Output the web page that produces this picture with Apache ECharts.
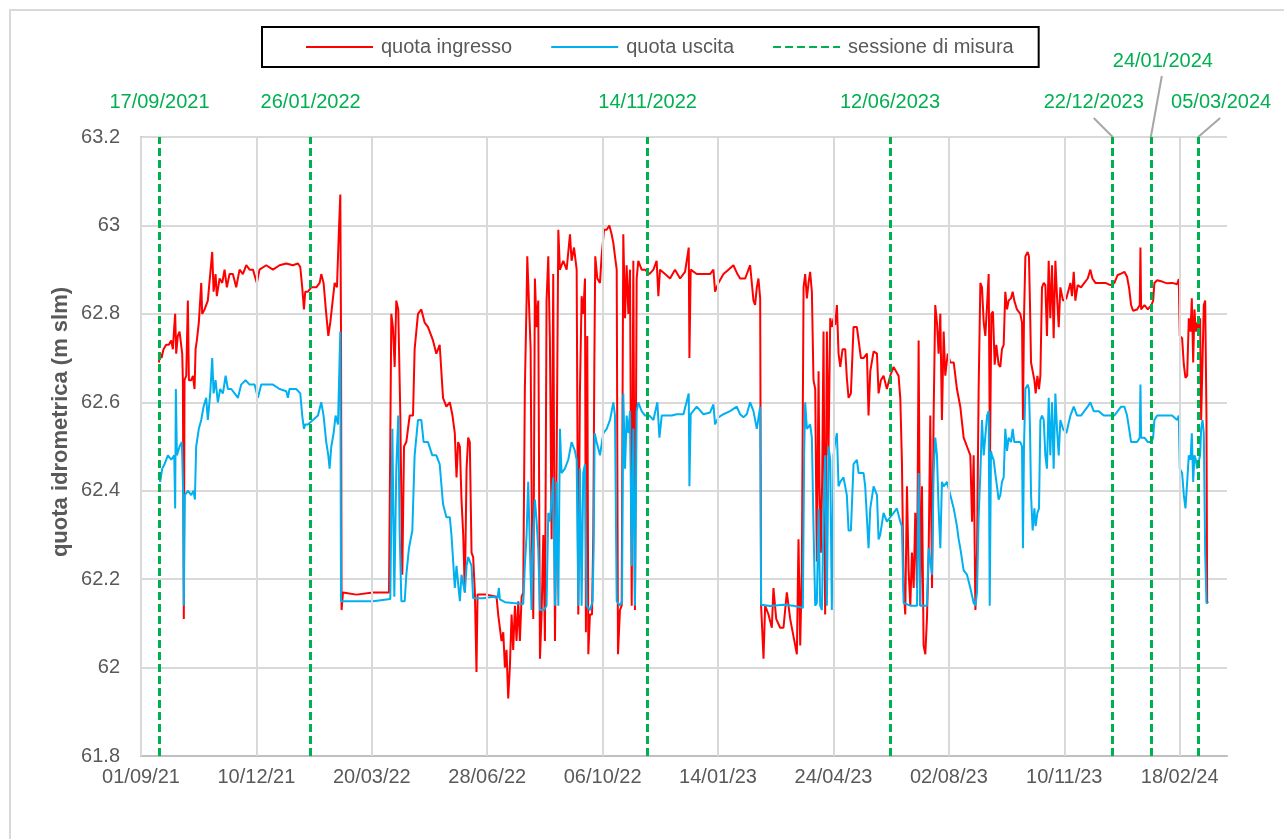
<!DOCTYPE html>
<html lang="it">
<head>
<meta charset="UTF-8">
<title>Quota idrometrica</title>
<script src="https://cdn.jsdelivr.net/npm/echarts@6/dist/echarts.min.js"></script>
<style>
    html, body { margin: 0; padding: 0; background: #fff; }
    #chart { width: 1284px; height: 839px; }
</style>
</head>
<body>
<div id="chart"></div>
<script type="text/javascript">
    // [giorni dal 01/09/2021, quota m slm]
    var quotaIngresso = [
        [15.5,62.69],[16.6,62.71],[17.8,62.70],[19.5,62.72],[21.8,62.73],[24.1,62.73],[26.2,62.74],[27.6,62.72],[28.8,62.77],[29.6,62.80],
        [30.5,62.71],[31.9,62.75],[33.4,62.76],[34.8,62.76],[35.7,62.71],[36.3,62.65],[37.1,62.11],[37.7,62.65],[39.2,62.66],[40.6,62.83],
        [41.5,62.65],[43.5,62.65],[45.0,62.66],[46.4,62.63],[47.3,62.72],[48.4,62.74],[50.1,62.78],[52.2,62.87],[53.0,62.80],[55.1,62.81],
        [56.5,62.81],[57.9,62.83],[59.4,62.83],[61.7,62.94],[62.9,62.85],[64.6,62.89],[65.7,62.84],[68.1,62.88],[70.4,62.87],[72.4,62.90],
        [74.4,62.86],[76.7,62.89],[79.6,62.89],[82.5,62.86],[85.4,62.90],[88.3,62.89],[91.2,62.91],[94.1,62.90],[97.0,62.90],[100.4,62.87],
        [102.7,62.90],[108.5,62.91],[114.3,62.90],[120.1,62.91],[125.9,62.914],[131.6,62.91],[136.0,62.914],[138.0,62.906],[139.7,62.86],[141.2,62.81],
        [142.3,62.85],[144.6,62.85],[147.5,62.86],[151.9,62.86],[154.8,62.87],[156.2,62.89],[158.2,62.87],[160.5,62.80],[162.3,62.75],[164.0,62.78],
        [165.7,62.78],[167.8,62.87],[169.8,62.86],[171.5,62.99],[172.7,63.07],[173.3,62.76],[173.8,62.13],[175.0,62.17],[186.6,62.165],[201.0,62.17],
        [214.9,62.17],[216.9,62.80],[218.3,62.77],[219.8,62.68],[221.2,62.83],[222.9,62.81],[224.7,62.57],[226.4,62.21],[227.9,62.50],[229.9,62.51],
        [232.8,62.57],[235.7,62.57],[237.1,62.72],[240.0,62.80],[242.9,62.81],[245.8,62.78],[248.7,62.77],[253.0,62.74],[255.9,62.71],[258.8,62.73],
        [261.7,62.61],[264.6,62.59],[267.6,62.60],[269.9,62.57],[271.9,62.53],[273.4,62.43],[274.8,62.51],[276.3,62.50],[277.7,62.38],[279.2,62.30],
        [280.6,62.17],[282.1,62.45],[283.5,62.52],[284.9,62.51],[286.4,62.26],[287.8,62.25],[289.3,62.17],[290.7,61.99],[291.6,62.165],[299.4,62.165],
        [308.1,62.16],[309.5,62.12],[311.0,62.12],[312.4,62.06],[313.9,62.08],[315.3,62.00],[316.7,62.04],[318.2,61.93],[319.6,62.00],[321.1,62.12],
        [322.5,62.04],[324.0,62.14],[325.4,62.06],[326.9,62.15],[328.3,62.06],[329.8,62.16],[331.2,62.17],[332.6,62.63],[334.1,62.83],[334.7,62.93],
        [336.4,62.93],[337.6,62.72],[338.7,62.30],[339.9,62.11],[341.3,62.88],[342.8,62.77],[344.2,62.83],[345.7,62.02],[347.1,62.12],[348.6,62.30],
        [350.0,62.06],[351.4,62.83],[352.9,62.93],[354.3,62.74],[355.8,62.29],[357.2,62.89],[358.7,62.06],[360.1,62.45],[361.6,62.99],[363.0,62.90],
        [365.9,62.92],[368.8,62.90],[371.7,62.98],[373.1,62.92],[375.2,62.95],[377.5,62.90],[378.9,62.12],[380.3,62.62],[381.8,62.84],[383.2,62.80],
        [384.7,62.88],[385.5,62.08],[386.7,62.75],[387.6,62.03],[389.0,62.12],[390.8,62.12],[391.9,62.30],[392.8,62.68],[393.6,62.93],[395.4,62.88],
        [397.7,62.87],[399.1,62.93],[401.2,62.99],[403.5,62.99],[405.8,63.00],[407.8,62.98],[409.3,62.96],[410.7,62.93],[412.2,62.90],[413.3,62.03],
        [415.0,62.13],[416.5,62.14],[417.9,62.98],[419.4,62.79],[420.8,62.91],[422.3,62.80],[423.7,62.90],[425.2,62.14],[426.6,62.92],[428.0,62.13],
        [429.5,62.88],[430.9,62.92],[433.8,62.90],[436.7,62.90],[440.5,62.89],[444.0,62.90],[446.8,62.92],[448.3,62.84],[449.7,62.90],[454.1,62.89],
        [458.4,62.88],[462.7,62.90],[467.1,62.88],[471.4,62.895],[474.6,62.95],[475.2,62.70],[476.3,62.90],[481.5,62.89],[487.3,62.89],[493.1,62.89],
        [496.0,62.90],[497.4,62.85],[500.3,62.87],[504.7,62.89],[509.0,62.90],[513.3,62.91],[516.8,62.89],[519.1,62.88],[523.5,62.88],[527.8,62.91],
        [529.2,62.91],[530.7,62.83],[532.1,62.82],[533.6,62.86],[535.0,62.88],[536.5,62.835],[537.3,62.14],[539.4,62.02],[540.8,62.14],[543.7,62.12],
        [546.6,62.09],[548.0,62.18],[550.4,62.11],[553.8,62.09],[556.7,62.09],[559.6,62.17],[562.5,62.11],[565.4,62.07],[568.3,62.03],[569.7,62.29],
        [571.2,62.05],[572.6,62.22],[574.1,62.86],[575.5,62.89],[577.0,62.835],[578.4,62.87],[579.8,62.895],[581.3,62.85],[582.7,62.65],[584.2,62.63],
        [585.6,62.24],[587.1,62.67],[587.9,62.41],[589.1,62.26],[590.2,62.42],[591.4,62.76],[592.8,62.12],[594.3,62.76],[595.7,62.48],[597.2,62.79],
        [598.6,62.77],[600.1,62.79],[601.5,62.775],[603.0,62.82],[604.4,62.71],[605.9,62.68],[607.9,62.72],[610.2,62.72],[611.6,62.655],[613.1,62.61],
        [615.1,62.62],[617.4,62.77],[620.3,62.77],[621.8,62.74],[623.8,62.70],[626.1,62.70],[629.0,62.71],[630.4,62.57],[631.9,62.67],[634.8,62.715],
        [637.7,62.71],[639.1,62.62],[641.1,62.65],[643.4,62.66],[646.3,62.63],[649.2,62.66],[652.1,62.68],[656.4,62.66],[657.9,62.61],[659.3,62.47],
        [660.8,62.18],[662.2,62.12],[663.7,62.41],[665.1,62.22],[666.6,62.14],[668.0,62.26],[669.5,62.18],[670.9,62.35],[672.4,62.18],[673.8,62.74],
        [675.2,62.14],[676.7,62.41],[678.1,62.05],[679.6,62.03],[681.0,62.11],[682.5,62.26],[683.9,62.57],[685.4,62.18],[686.8,62.57],[688.2,62.82],
        [689.7,62.78],[691.1,62.71],[692.6,62.80],[694.0,62.56],[695.5,62.76],[696.9,62.66],[699.0,62.71],[701.3,62.69],[704.2,62.69],[707.0,62.63],
        [709.9,62.59],[712.8,62.52],[715.7,62.50],[718.6,62.48],[720.1,62.33],[721.5,62.48],[723.0,62.13],[724.4,62.26],[725.8,62.63],[727.3,62.87],
        [728.7,62.86],[730.2,62.78],[731.6,62.75],[733.1,62.82],[734.5,62.89],[735.6,62.46],[736.8,62.80],[738.2,62.805],[739.7,62.685],[741.1,62.73],
        [743.1,62.685],[744.6,62.68],[746.0,62.72],[747.5,62.73],[748.9,62.85],[750.4,62.81],[751.8,62.83],[753.8,62.835],[755.3,62.85],[756.7,62.83],
        [759.0,62.81],[761.9,62.80],[763.4,62.78],[764.2,62.56],[765.1,62.79],[766.3,62.93],[768.3,62.94],[769.4,62.93],[770.3,62.82],[771.2,62.69],
        [772.6,62.69],[774.1,62.65],[775.2,62.62],[776.7,62.66],[778.1,62.63],[779.3,62.66],[780.7,62.86],[782.2,62.87],[783.6,62.865],[785.0,62.75],
        [786.5,62.92],[787.9,62.79],[789.4,62.91],[790.8,62.745],[792.3,62.92],[793.7,62.84],[795.2,62.77],[796.6,62.86],[798.9,62.83],[801.8,62.835],
        [805.3,62.87],[806.7,62.84],[808.2,62.895],[809.6,62.83],[811.6,62.865],[814.5,62.86],[817.4,62.87],[820.3,62.88],[822.6,62.90],[824.4,62.88],
        [827.0,62.87],[831.3,62.87],[835.6,62.87],[840.0,62.865],[843.4,62.87],[846.3,62.888],[849.2,62.891],[852.1,62.895],[854.4,62.884],[856.2,62.858],
        [857.9,62.82],[859.6,62.807],[863.1,62.81],[865.4,62.82],[866.0,62.95],[866.6,62.81],[869.5,62.82],[872.4,62.81],[875.5,62.82],[877.0,62.83],
        [878.1,62.87],[880.5,62.876],[884.8,62.873],[889.1,62.869],[893.5,62.87],[897.8,62.867],[899.2,62.879],[900.1,62.75],[902.1,62.745],[903.6,62.685],
        [905.0,62.655],[906.5,62.66],[907.9,62.79],[909.4,62.76],[910.5,62.835],[911.7,62.69],[912.8,62.81],[914.0,62.76],[915.1,62.78],[916.6,62.76],
        [917.7,62.79],[918.6,62.56],[919.8,62.56],[920.9,62.82],[922.1,62.83],[923.2,62.57],[923.8,62.15],[924.4,62.146]
    ];

    var quotaUscita = [
        [15.5,62.44],[16.6,62.42],[18.4,62.45],[20.4,62.46],[23.3,62.48],[26.2,62.47],[28.8,62.48],[29.6,62.36],[30.2,62.63],[31.1,62.48],
        [33.4,62.50],[35.4,62.51],[36.6,62.39],[37.1,62.14],[38.0,62.39],[40.6,62.40],[43.5,62.39],[45.5,62.40],[46.7,62.38],[47.8,62.50],
        [50.1,62.54],[52.2,62.56],[54.2,62.59],[56.5,62.61],[57.9,62.56],[60.0,62.62],[61.7,62.70],[62.9,62.62],[64.6,62.65],[66.6,62.60],
        [68.6,62.63],[71.0,62.62],[73.3,62.66],[75.3,62.63],[78.2,62.63],[81.1,62.62],[84.0,62.61],[86.8,62.64],[90.6,62.65],[94.1,62.64],
        [98.4,62.64],[101.3,62.61],[104.2,62.64],[108.5,62.64],[114.3,62.64],[120.1,62.63],[125.9,62.625],[127.3,62.61],[128.7,62.63],[134.5,62.63],
        [138.0,62.62],[139.7,62.57],[141.2,62.54],[142.3,62.55],[144.6,62.55],[149.0,62.56],[153.3,62.57],[156.2,62.60],[158.2,62.57],[160.5,62.51],
        [162.3,62.48],[163.4,62.45],[164.9,62.50],[166.9,62.53],[168.6,62.57],[170.7,62.55],[172.1,62.70],[172.7,62.76],[173.3,62.15],[186.6,62.15],
        [201.0,62.15],[216.0,62.155],[217.8,62.54],[219.5,62.16],[221.2,62.45],[222.9,62.57],[224.1,62.31],[225.6,62.15],[228.5,62.15],[229.9,62.21],
        [232.2,62.27],[235.1,62.31],[237.1,62.48],[240.0,62.56],[242.9,62.56],[244.9,62.51],[248.7,62.51],[252.4,62.48],[255.9,62.48],[258.8,62.46],
        [261.7,62.37],[264.6,62.34],[267.6,62.34],[269.0,62.30],[270.5,62.24],[271.9,62.18],[273.4,62.23],[274.8,62.19],[276.3,62.15],[277.7,62.21],
        [279.2,62.21],[280.6,62.17],[282.1,62.23],[283.5,62.25],[284.9,62.24],[286.4,62.23],[287.8,62.157],[296.5,62.157],[305.2,62.16],[308.9,62.157],
        [310.1,62.18],[311.0,62.154],[315.3,62.148],[322.5,62.146],[331.2,62.144],[332.6,62.23],[334.1,62.30],[335.5,62.42],[337.0,62.27],[338.4,62.13],
        [339.9,62.30],[341.3,62.38],[342.8,62.33],[344.2,62.27],[345.7,62.13],[349.1,62.13],[351.4,62.14],[352.9,62.35],[354.3,62.33],[355.8,62.38],
        [357.2,62.43],[358.7,62.14],[360.1,62.42],[361.6,62.14],[363.0,62.54],[364.4,62.44],[367.3,62.45],[370.2,62.47],[373.1,62.51],[376.0,62.49],
        [377.5,62.47],[378.9,62.14],[380.3,62.45],[381.8,62.14],[383.2,62.44],[384.7,62.46],[386.1,62.14],[389.0,62.13],[391.3,62.15],[392.2,62.27],
        [393.1,62.53],[394.8,62.51],[397.7,62.48],[400.6,62.53],[403.5,62.54],[406.4,62.56],[409.3,62.60],[410.7,62.57],[412.2,62.15],[415.0,62.14],
        [416.8,62.15],[417.9,62.62],[419.4,62.45],[420.8,62.57],[422.3,62.53],[423.7,62.58],[425.2,62.23],[426.6,62.54],[428.0,62.14],[429.5,62.58],
        [430.9,62.60],[433.8,62.58],[436.7,62.57],[440.5,62.57],[444.0,62.56],[447.4,62.60],[449.2,62.52],[451.2,62.57],[455.5,62.57],[459.9,62.57],
        [464.2,62.573],[470.0,62.573],[474.6,62.62],[475.2,62.41],[476.3,62.573],[481.5,62.59],[487.3,62.573],[493.1,62.577],[496.0,62.595],[497.4,62.55],
        [500.3,62.566],[504.7,62.573],[510.4,62.58],[516.2,62.59],[519.1,62.573],[522.0,62.566],[524.9,62.573],[527.8,62.60],[530.7,62.58],[533.6,62.54],
        [536.5,62.59],[537.3,62.142],[545.1,62.139],[556.7,62.142],[565.4,62.14],[573.5,62.135],[574.6,62.48],[575.5,62.60],[577.0,62.54],[579.8,62.55],
        [581.3,62.52],[582.7,62.32],[584.2,62.14],[585.6,62.146],[587.1,62.36],[588.5,62.14],[590.0,62.13],[591.4,62.34],[592.8,62.48],[594.3,62.14],
        [595.7,62.50],[597.2,62.47],[598.6,62.13],[600.1,62.48],[601.5,62.51],[603.0,62.53],[604.4,62.41],[605.9,62.42],[608.7,62.43],[611.6,62.39],
        [613.1,62.31],[615.1,62.31],[617.4,62.46],[620.3,62.47],[621.8,62.44],[626.1,62.44],[627.5,62.41],[630.4,62.27],[631.9,62.36],[634.8,62.41],
        [637.7,62.39],[639.1,62.29],[640.5,62.30],[643.4,62.35],[646.3,62.33],[649.2,62.34],[652.1,62.35],[655.0,62.36],[657.9,62.33],[659.3,62.32],
        [660.8,62.146],[666.6,62.14],[672.4,62.14],[673.8,62.44],[675.2,62.14],[681.0,62.14],[682.5,62.27],[683.9,62.27],[685.4,62.21],[686.8,62.44],
        [688.2,62.52],[689.7,62.48],[691.1,62.36],[692.6,62.27],[694.0,62.42],[695.5,62.41],[698.4,62.42],[701.3,62.39],[704.2,62.36],[707.0,62.32],
        [708.5,62.29],[709.9,62.27],[712.8,62.22],[715.7,62.21],[718.6,62.18],[721.5,62.146],[723.0,62.14],[724.4,62.17],[725.8,62.34],[727.3,62.44],
        [728.7,62.56],[730.2,62.48],[733.1,62.57],[734.5,62.58],[735.4,62.14],[736.5,62.49],[737.3,62.48],[738.8,62.47],[740.2,62.44],[741.7,62.41],
        [743.1,62.38],[744.6,62.39],[746.0,62.42],[747.5,62.43],[748.9,62.54],[750.4,62.49],[751.8,62.52],[753.8,62.51],[755.3,62.54],[756.7,62.51],
        [759.0,62.51],[761.9,62.51],[763.4,62.50],[764.2,62.27],[765.1,62.50],[766.3,62.63],[768.3,62.64],[769.4,62.63],[770.3,62.54],[771.2,62.39],
        [772.6,62.31],[774.1,62.36],[775.2,62.32],[776.7,62.35],[778.1,62.36],[779.3,62.56],[780.7,62.57],[782.2,62.56],[783.6,62.48],[785.0,62.45],
        [786.5,62.61],[787.9,62.48],[789.4,62.60],[790.8,62.45],[792.3,62.62],[793.7,62.54],[795.2,62.48],[796.6,62.56],[798.9,62.54],[801.8,62.53],
        [805.3,62.57],[808.2,62.59],[811.1,62.57],[814.5,62.57],[817.4,62.58],[820.3,62.59],[822.6,62.60],[825.5,62.58],[829.9,62.58],[834.2,62.57],
        [838.5,62.57],[843.4,62.57],[846.3,62.58],[849.2,62.59],[852.1,62.59],[854.4,62.57],[856.2,62.54],[857.9,62.51],[859.6,62.51],[863.1,62.51],
        [865.4,62.52],[866.0,62.64],[866.6,62.52],[869.5,62.52],[872.4,62.51],[875.5,62.51],[877.0,62.52],[878.1,62.56],[880.5,62.57],[884.8,62.57],
        [889.1,62.57],[893.5,62.57],[897.8,62.56],[899.2,62.57],[900.1,62.45],[902.1,62.44],[903.6,62.39],[905.0,62.36],[906.5,62.42],[907.9,62.48],
        [909.4,62.47],[910.5,62.53],[911.7,62.42],[912.8,62.48],[914.0,62.47],[915.1,62.45],[916.6,62.45],[917.7,62.48],[918.6,62.54],[919.8,62.56],
        [920.9,62.53],[922.1,62.26],[923.2,62.146],[924.4,62.146]
    ];

    // sessioni di misura
    var sessioni = ['2021-09-17', '2022-01-26', '2022-11-14', '2023-06-12', '2023-12-22', '2024-01-24', '2024-03-05'];

    // tacche dell'asse x (giorni dal 01/09/2021)
    var tickGiorni = [0, 100, 200, 300, 400, 500, 600, 700, 800, 900];

    var FONT = '"Liberation Sans", Arial, sans-serif';
    var GRIGIO = '#595959';
    var VERDE = '#00b050';
    var base = Date.UTC(2021, 8, 1);

    function giorno(s) {
        var p = s.split('-');
        return (Date.UTC(+p[0], +p[1] - 1, +p[2]) - base) / 864e5;
    }
    function due(n) { return (n < 10 ? '0' : '') + n; }
    function dataTesto(g, annoLungo) {
        var d = new Date(base + g * 864e5);
        var a = annoLungo ? String(d.getUTCFullYear()) : String(d.getUTCFullYear()).slice(2);
        return due(d.getUTCDate()) + '/' + due(d.getUTCMonth() + 1) + '/' + a;
    }

    var myChart = echarts.init(document.getElementById('chart'));

    var option = {
        animation: false,
        backgroundColor: '#fff',
        textStyle: { fontFamily: FONT },
        legend: {
            data: ['quota ingresso', 'quota uscita', 'sessione di misura'],
            left: 262,
            top: 27,
            padding: [10, 25, 10, 43],
            itemGap: 38,
            itemWidth: 67,
            itemHeight: 3,
            itemStyle: { opacity: 0 },
            borderColor: '#000',
            borderWidth: 2,
            textStyle: { fontSize: 20, color: GRIGIO, fontFamily: FONT, padding: [0, 0, 0, 3] }
        },
        grid: { left: 141, right: 57, top: 137, bottom: 83, containLabel: false, outerBoundsMode: 'none' },
        xAxis: {
            type: 'value',
            min: 0,
            max: 941,
            interval: 100,
            axisLine: { lineStyle: { color: '#bfbfbf', width: 2 } },
            axisTick: { show: false },
            splitLine: { show: false },
            axisLabel: {
                margin: 11,
                fontSize: 20,
                color: GRIGIO,
                fontFamily: FONT,
                formatter: function (v) { return v % 100 === 0 ? dataTesto(v, false) : ''; }
            }
        },
        yAxis: {
            type: 'value',
            min: 61.8,
            max: 63.2,
            interval: 0.2,
            axisLine: { show: true, lineStyle: { color: '#bfbfbf', width: 2 } },
            axisTick: { show: false },
            splitLine: { lineStyle: { color: '#d9d9d9', width: 2 } },
            axisLabel: { margin: 21, fontSize: 20, color: GRIGIO, fontFamily: FONT }
        },
        series: [
            {
                name: 'griglia',
                type: 'line',
                data: [],
                z: 1,
                silent: true,
                markLine: {
                    silent: true,
                    symbol: ['none', 'none'],
                    label: { show: false },
                    lineStyle: { color: '#d9d9d9', width: 2, type: 'solid' },
                    data: tickGiorni.map(function (g) { return { xAxis: g }; })
                }
            },
            {
                name: 'quota ingresso',
                type: 'line',
                data: quotaIngresso,
                symbol: 'none',
                showSymbol: false,
                lineStyle: { color: '#ff0000', width: 2 },
                itemStyle: { color: '#ff0000' }
            },
            {
                name: 'quota uscita',
                type: 'line',
                data: quotaUscita,
                symbol: 'none',
                showSymbol: false,
                lineStyle: { color: '#00b0f0', width: 2 },
                itemStyle: { color: '#00b0f0' }
            },
            {
                name: 'sessione di misura',
                type: 'line',
                data: [],
                symbol: 'none',
                lineStyle: { color: VERDE, width: 3, type: [8, 4] },
                itemStyle: { color: VERDE },
                markLine: {
                    silent: true,
                    symbol: ['none', 'none'],
                    label: { show: false },
                    lineStyle: { color: VERDE, width: 3, type: [8, 4] },
                    data: sessioni.map(function (s) { return { xAxis: giorno(s) }; })
                }
            }
        ]
    };
    myChart.setOption(option);

    // etichette delle sessioni: [dx testo, y testo, dx attacco, y attacco]
    var posEtichette = {
        '2023-12-22': [-19, 102, -19, 118],
        '2024-01-24': [12, 61, 11, 76],
        '2024-03-05': [23, 102, 22, 118]
    };
    var yTop = myChart.convertToPixel({ yAxisIndex: 0 }, 63.2);
    var grafica = [
        {
            type: 'rect', silent: true, z: -10,
            shape: { x: 10, y: 10, width: 1300, height: 900 },
            style: { fill: 'none', stroke: '#d9d9d9', lineWidth: 2 }
        },
        {
            type: 'text', x: 61, y: 422, rotation: Math.PI / 2,
            style: {
                text: 'quota idrometrica (m slm)', fill: GRIGIO,
                fontSize: 22, fontWeight: 'bold', fontFamily: FONT,
                align: 'center', verticalAlign: 'middle'
            }
        }
    ];
    sessioni.forEach(function (s) {
        var x = myChart.convertToPixel({ xAxisIndex: 0 }, giorno(s));
        var p = posEtichette[s] || [0, 102];
        grafica.push({
            type: 'text', x: x + p[0], y: p[1],
            style: {
                text: dataTesto(giorno(s), true), fill: VERDE,
                fontSize: 20, fontFamily: FONT, align: 'center', verticalAlign: 'middle'
            }
        });
        if (posEtichette[s]) {
            grafica.push({
                type: 'line', silent: true,
                shape: { x1: x + p[2], y1: p[3], x2: x, y2: yTop },
                style: { stroke: '#a6a6a6', lineWidth: 2 }
            });
        }
    });
    myChart.setOption({ graphic: grafica });
</script>
</body>
</html>
